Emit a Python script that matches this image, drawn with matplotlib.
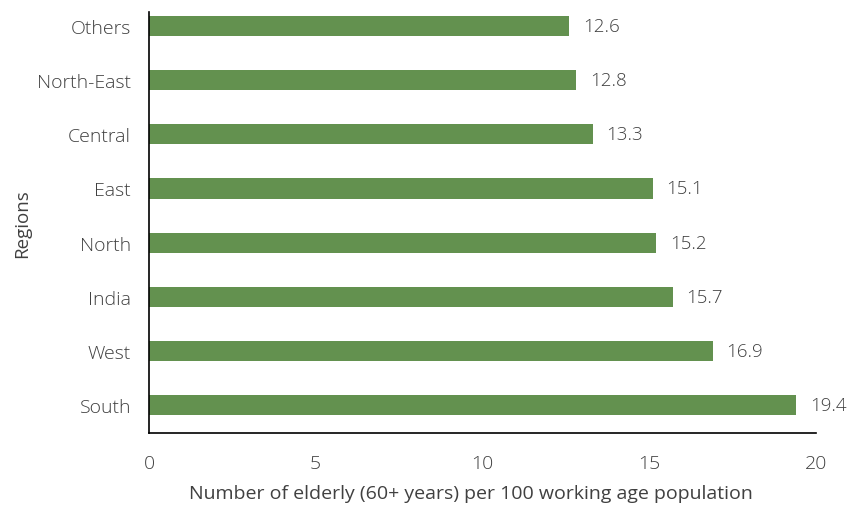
import matplotlib.pyplot as plt

regions = ['South', 'West', 'India', 'North', 'East', 'Central', 'North-East', 'Others']
values = [19.4, 16.9, 15.7, 15.2, 15.1, 13.3, 12.8, 12.6]
xticks = [0, 5, 10, 15, 20]

plt.rcParams['font.family'] = ['Open Sans', 'DejaVu Sans']
plt.rcParams['font.weight'] = 'light'

fig = plt.figure(figsize=(8.48, 5.06), dpi=100)
ax = fig.add_axes([0.1757, 0.1423, 0.7865, 0.8317])

bars = ax.barh(range(len(regions)), values, height=0.37, color='#63914f')

for i, v in enumerate(values):
    ax.annotate(f'{v}', xy=(v, i), xytext=(10, 0), textcoords='offset points',
                va='center', ha='left', fontsize=13.5, color='#404040')

ax.set_xlim(0, 20)
ax.set_ylim(-0.52, 7.26)
ax.set_xticks(xticks)
ax.set_yticks(range(len(regions)))
ax.set_yticklabels(regions)
ax.tick_params(length=0, labelsize=14, colors='#404040')
ax.tick_params(axis='x', pad=15)
ax.tick_params(axis='y', pad=13)

for s in ['top', 'right']:
    ax.spines[s].set_visible(False)
for s in ['left', 'bottom']:
    ax.spines[s].set_color('black')
    ax.spines[s].set_linewidth(1.2)

ax.set_xlabel('Number of elderly (60+ years) per 100 working age population',
              fontsize=14, color='#404040', labelpad=9)
ax.xaxis.label.set_x(0.482)
ax.set_ylabel('Regions', fontsize=13.5, color='#404040', labelpad=4)

fig.savefig('out.png', dpi=100)
